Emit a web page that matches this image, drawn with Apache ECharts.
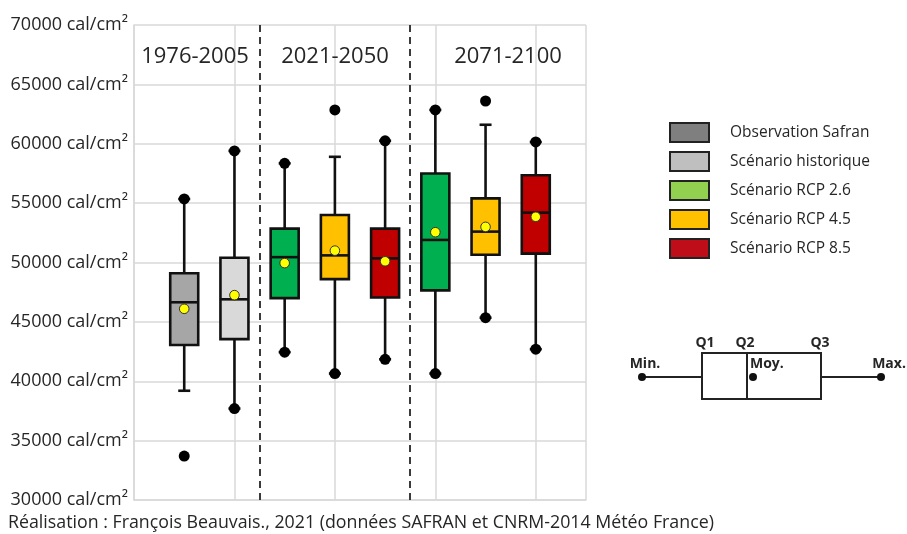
<!DOCTYPE html>
<html>
<head>
<meta charset="utf-8">
<script src="https://cdn.jsdelivr.net/npm/echarts@6/dist/echarts.min.js"></script>
<style>html,body{margin:0;padding:0;background:#fff}#c{width:907px;height:534px}</style>
</head>
<body>
<div id="c"></div>
<script>
// ---- DATA ----
const seriesNames = ['Observation Safran', 'Scénario historique', 'Scénario RCP 2.6', 'Scénario RCP 4.5', 'Scénario RCP 8.5'];
const periods = ['1976-2005', '2021-2050', '2071-2100'];
// box position (x value on a 0..9 axis) for each box
const boxPos      = [1, 2, 3, 4, 5, 6, 7, 8];
const boxSeries   = [0, 1, 2, 3, 4, 2, 3, 4];
const whiskerLow  = [39200, 37700, 42450, 40650, 41850, 40650, 45350, 42700];
const q1          = [43050, 43550, 47000, 48600, 47050, 47650, 50650, 50750];
const median      = [46650, 46900, 50450, 50600, 50350, 51900, 52600, 54200];
const q3          = [49100, 50400, 52850, 54000, 52850, 57500, 55400, 57350];
const whiskerHigh = [55350, 59400, 58350, 58900, 60250, 62850, 61600, 60150];
const mean        = [46100, 47250, 49950, 51000, 50100, 52550, 53000, 53850];
const minVal      = [33700, 37700, 42450, 40650, 41850, 40650, 45350, 42700];
const maxVal      = [55350, 59400, 58350, 62850, 60250, 62850, 63600, 60150];
const yTicksUnit = ' cal/cm²';
const separators = [2.5, 5.5];
const footnote = 'Réalisation : François Beauvais., 2021 (données SAFRAN et CNRM-2014 Météo France)';
const keyLabels = ['Min.', 'Q1', 'Q2', 'Q3', 'Moy.', 'Max.'];

// ---- STYLE ----
const boxColors    = ['#a6a6a6', '#d9d9d9', '#00b050', '#ffc000', '#c00000'];
const legendColors = ['#7f7f7f', '#bfbfbf', '#92d050', '#ffc000', '#c00d1a'];
const FONT = '"Open Sans", "Liberation Sans", sans-serif';
const TXT = '#262626';

function renderBox(params, api) {
  const x = api.value(0);
  const P = v => api.coord([x, v]);
  const cx = P(0)[0];
  const yWL = P(api.value(1))[1], yQ1 = P(api.value(2))[1], yMed = P(api.value(3))[1];
  const yQ3 = P(api.value(4))[1], yWH = P(api.value(5))[1], yMean = P(api.value(6))[1];
  const yMin = P(api.value(7))[1], yMax = P(api.value(8))[1];
  const hw = 14, cap = 6, lw = 2.6;
  const color = api.visual('color');
  const line = (x1, y1, x2, y2) => ({type: 'line', shape: {x1, y1, x2, y2}, style: {stroke: '#111', lineWidth: lw}});
  const dot = (y, r, fill, stroke) => ({type: 'circle', shape: {cx: cx, cy: y, r: r}, style: {fill: fill, stroke: stroke || null, lineWidth: stroke ? 1 : 0}});
  return {
    type: 'group',
    children: [
      line(cx, yQ3, cx, yWH),
      line(cx, yQ1, cx, yWL),
      line(cx - cap, yWH, cx + cap, yWH),
      line(cx - cap, yWL, cx + cap, yWL),
      {type: 'rect', shape: {x: cx - hw, y: yQ3, width: 2 * hw, height: yQ1 - yQ3}, style: {fill: color, stroke: '#111', lineWidth: lw}},
      line(cx - hw, yMed, cx + hw, yMed),
      dot(yMin, 5.5, '#000'),
      dot(yMax, 5.5, '#000'),
      dot(yMean, 4.8, '#ffff00', '#333')
    ]
  };
}

const series = seriesNames.map((name, s) => {
  const data = [];
  boxPos.forEach((p, i) => {
    if (boxSeries[i] === s) data.push([p, whiskerLow[i], q1[i], median[i], q3[i], whiskerHigh[i], mean[i], minVal[i], maxVal[i]]);
  });
  return {
    name: name,
    type: 'custom',
    renderItem: renderBox,
    itemStyle: {color: boxColors[s]},
    encode: {x: 0, y: [1, 2, 3, 4, 5, 6, 7, 8]},
    data: data,
    z: 5
  };
});

// separators as markLines on first series
series[0].markLine = {
  silent: true,
  symbol: 'none',
  label: {show: false},
  lineStyle: {type: [7, 5], color: '#3a3a3a', width: 2},
  data: separators.map(v => ({xAxis: v}))
};

// ---- graphic: period labels, key diagram, footnote ----
const graphic = [];
const periodX = [195, 335, 508];
periods.forEach((t, i) => graphic.push({
  type: 'text', x: periodX[i], y: 57, z: 10,
  style: {text: t, font: '22px ' + FONT, fill: TXT, textAlign: 'center', textVerticalAlign: 'middle'}
}));
// key diagram
const kY = 377;
graphic.push(
  {type: 'line', shape: {x1: 642, y1: kY, x2: 702, y2: kY}, style: {stroke: '#222', lineWidth: 2}},
  {type: 'line', shape: {x1: 821, y1: kY, x2: 881, y2: kY}, style: {stroke: '#222', lineWidth: 2}},
  {type: 'rect', shape: {x: 702, y: 353, width: 119, height: 46}, style: {fill: '#fff', stroke: '#222', lineWidth: 2}},
  {type: 'line', shape: {x1: 747, y1: 353, x2: 747, y2: 399}, style: {stroke: '#222', lineWidth: 2}},
  {type: 'circle', shape: {cx: 642, cy: kY, r: 4}, style: {fill: '#111'}},
  {type: 'circle', shape: {cx: 881, cy: kY, r: 4}, style: {fill: '#111'}},
  {type: 'circle', shape: {cx: 753, cy: kY, r: 4}, style: {fill: '#111'}}
);
const keyPos = [[645, 364, 'center'], [705, 343, 'center'], [745, 343, 'center'], [820, 343, 'center'], [750, 364, 'left'], [889, 364, 'center']];
keyLabels.forEach((t, i) => graphic.push({
  type: 'text', x: keyPos[i][0], y: keyPos[i][1],
  style: {text: t, font: 'bold 14px ' + FONT, fill: TXT, textAlign: keyPos[i][2], textVerticalAlign: 'middle'}
}));
graphic.push({type: 'text', x: 8, y: 523, style: {text: footnote, font: '17.8px ' + FONT, fill: TXT, textVerticalAlign: 'middle'}});

const chart = echarts.init(document.getElementById('c'), null, {renderer: 'canvas'});
chart.setOption({
  animation: false,
  backgroundColor: '#fff',
  grid: {left: 134, right: 321, top: 25, bottom: 34},
  xAxis: {
    type: 'value', min: 0, max: 9, interval: 2,
    axisLabel: {show: false}, axisTick: {show: false},
    axisLine: {show: true, lineStyle: {color: '#d9d9d9', width: 1.5}},
    splitLine: {show: true, lineStyle: {color: '#d9d9d9', width: 1.5}}
  },
  yAxis: {
    type: 'value', min: 30000, max: 70000, interval: 5000,
    axisLine: {show: true, lineStyle: {color: '#d9d9d9', width: 1.5}},
    axisTick: {show: false},
    splitLine: {show: true, lineStyle: {color: '#d9d9d9', width: 1.5}},
    axisLabel: {formatter: v => v + yTicksUnit, fontFamily: FONT, fontSize: 18, color: TXT, margin: 6}
  },
  legend: {
    orient: 'vertical', left: 669, top: 122, padding: 0,
    itemWidth: 39, itemHeight: 19, itemGap: 8, icon: 'rect',
    textStyle: {fontFamily: FONT, fontSize: 15.5, color: TXT, padding: [0, 0, 0, 16]},
    selectedMode: false,
    data: seriesNames.map((n, i) => ({name: n, itemStyle: {color: legendColors[i], borderColor: '#222', borderWidth: 2}}))
  },
  graphic: graphic,
  series: series
});
</script>
</body>
</html>
